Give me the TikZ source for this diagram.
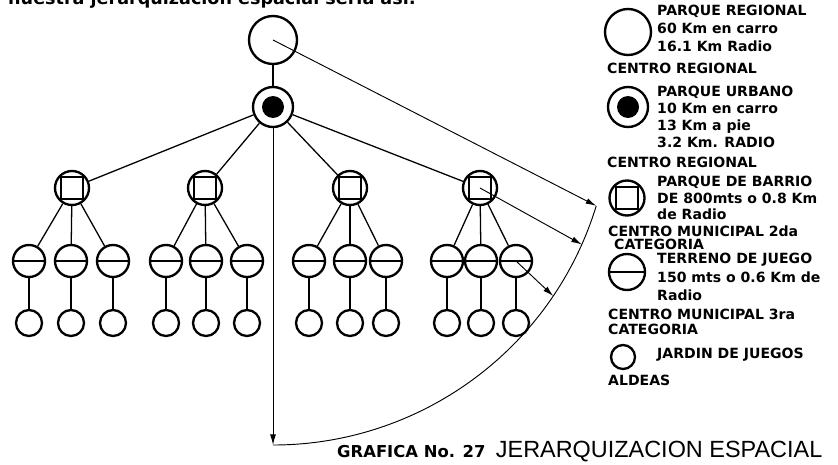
\documentclass[tikz,border=0pt]{standalone}
\usepackage{fontspec}
\setmainfont{DejaVu Sans}
\newfontfamily\titlefont{Liberation Sans}
\usetikzlibrary{arrows.meta}

\tikzset{
  nodo/.style={circle, draw, line width=2pt, inner sep=0pt},
  regional/.style={nodo, minimum size=1.44cm},
  urbano/.style={nodo, minimum size=1.2cm,
    path picture={\fill (path picture bounding box.center) circle (0.33cm);}},
  barrio/.style={nodo, minimum size=1.02cm,
    path picture={\draw[line width=1.5pt] ([shift={(-0.33cm,-0.33cm)}]path picture bounding box.center) rectangle +(0.66cm,0.66cm);}},
  terreno/.style={nodo, minimum size=0.96cm,
    path picture={\draw[line width=1.8pt] (path picture bounding box.west) -- (path picture bounding box.east);}},
  jardin/.style={nodo, minimum size=0.78cm},
  rama/.style={line width=1.1pt},
  radio/.style={line width=0.8pt, -{Latex[length=9pt,width=5pt]}},
  leyenda/.style={anchor=west, align=left, inner sep=0pt, font=\bfseries\fontsize{12}{#1}\selectfont},
  leyenda/.default=15,
  titulo/.style={inner sep=0pt, font=\titlefont\fontsize{20}{24}\selectfont},
}

\begin{document}
\begin{tikzpicture}[x=0.03cm, y=0.03cm]
  \path[use as bounding box, clip] (0,0) rectangle (838,464);

  % texto cortado arriba
  \node[anchor=base west, inner sep=0pt, font=\bfseries\fontsize{15}{18}\selectfont] (intro) at (8,459) {nuestra jerarquizacion espacial seria asi:};

  % arbol
  \node[regional] (reg) at (273,424) {};
  \node[urbano] (urb) at (273,357) {};
  \draw[rama] (reg) -- (urb);
  \foreach \g/\sx/\ta/\tb/\tc in {1/72/29/71/113, 2/205/166/206/247, 3/350/309/350/386, 4/480/447/481/516} {
    \node[barrio] (b\g) at (\sx,276) {};
    \draw[rama] (urb) -- (b\g);
    \foreach \k/\tx in {1/\ta, 2/\tb, 3/\tc} {
      \node[terreno] (t\g\k) at (\tx,203) {};
      \node[jardin] (j\g\k) at (\tx,141) {};
      \draw[rama] (b\g) -- (t\g\k);
      \draw[rama] (t\g\k) -- (j\g\k);
    }
  }

  % radios de influencia
  \def\R{10.14cm}
  \coordinate (r17) at ([shift={(-17:\R)}]urb.center);
  \coordinate (r24) at ([shift={(-24:\R)}]urb.center);
  \coordinate (r34) at ([shift={(-34:\R)}]urb.center);
  \coordinate (r90) at ([shift={(-90:\R)}]urb.center);
  \draw[line width=0.8pt] (r90) arc[start angle=-90, end angle=-17, radius=\R];
  \draw[radio] (reg.center) -- (r17);
  \draw[radio] (b4.center) -- (r24);
  \draw[radio] (t43.center) -- (r34);
  \draw[radio] (urb) -- (r90);

  % leyenda
  \node[regional, minimum size=1.38cm] (lreg) at (628,432) {};
  \node[leyenda=15.3] (txreg) at (657,436) {PARQUE REGIONAL\\60 Km en carro\\16.1 Km Radio};
  \node[leyenda] (cr1) at (607,396) {CENTRO REGIONAL};
  \node[urbano] (lurb) at (628,357) {};
  \node[leyenda=14.7] (txurb) at (657,347) {PARQUE URBANO\\10 Km en carro\\13 Km a pie\\3.2 Km. RADIO};
  \node[leyenda] (cr2) at (607,302) {CENTRO REGIONAL};
  \node[barrio, minimum size=1.05cm] (lbar) at (627,266) {};
  \node[leyenda=14] (txbar) at (657,266) {PARQUE DE BARRIO\\DE 800mts o 0.8 Km\\de Radio};
  \node[leyenda] (cm2) at (608,233) {CENTRO MUNICIPAL 2da};
  \node[leyenda] (cat2) at (614,220) {CATEGORIA};
  \node[terreno, minimum size=1.08cm] (lter) at (627,192) {};
  \node[leyenda=15.7] (txter) at (657,187) {TERRENO DE JUEGO\\150 mts o 0.6 Km de\\Radio};
  \node[leyenda=12.7] (cm3) at (608,142) {CENTRO MUNICIPAL 3ra\\CATEGORIA};
  \node[jardin, minimum size=0.72cm] (ljar) at (623,107) {};
  \node[leyenda] (txjar) at (657,109) {JARDIN DE JUEGOS};
  \node[leyenda] (ald) at (608,84) {ALDEAS};

  % titulo
  \node[anchor=base west, inner sep=0pt, font=\bfseries\fontsize{14}{16}\selectfont] (graf) at (337,7) {GRAFICA No. 27};
  \node[titulo, anchor=base west] (jer) at ([xshift=0.3cm]graf.base east) {JERARQUIZACION ESPACIAL};
\end{tikzpicture}
\end{document}
